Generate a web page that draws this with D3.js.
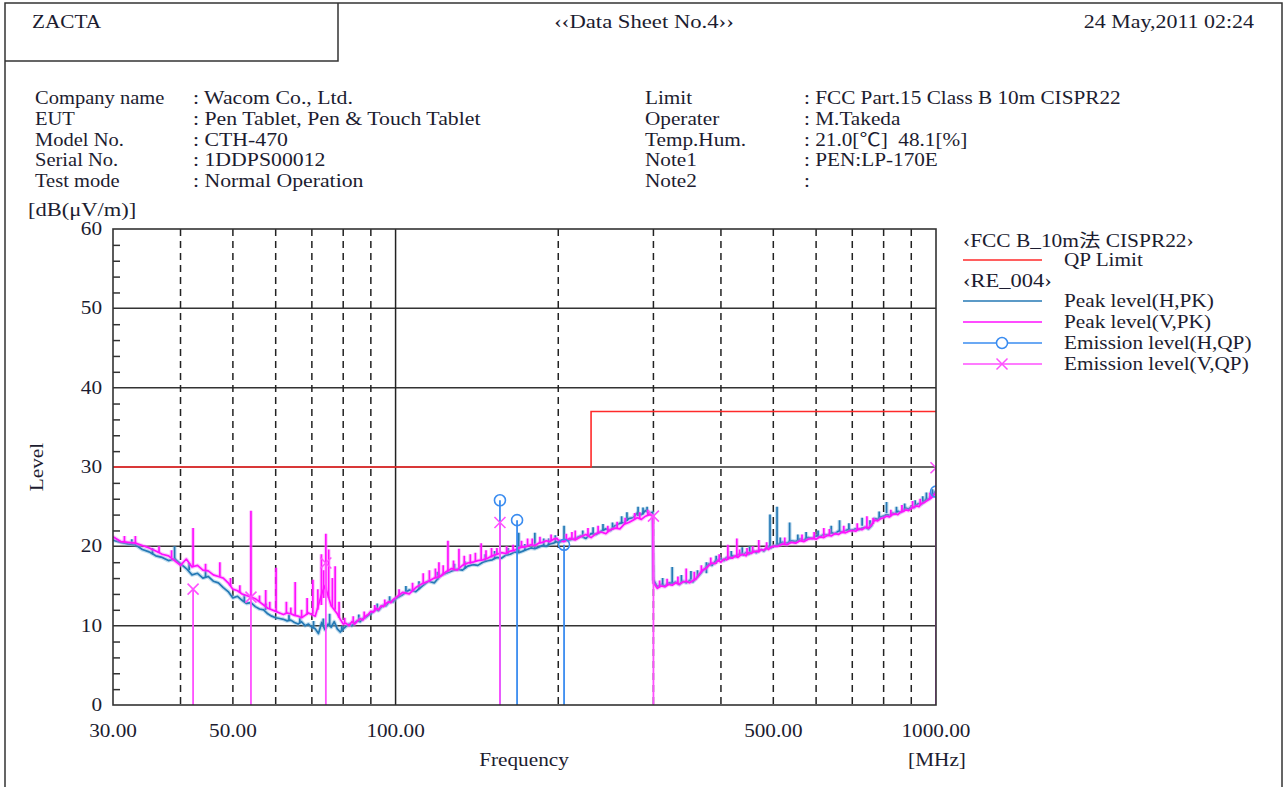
<!DOCTYPE html>
<meta charset="utf-8">
<html>
<head>
<style>
  body { margin: 0; background: #fff; }
  svg text { font-family: "Liberation Serif", "Noto Sans CJK JP", serif; fill: #1c1c30; font-size: 18px; white-space: pre; }
</style>
<script src="https://d3js.org/d3.v7.min.js"></script>
</head>
<body>
<div id="chart"></div>
<script>
// sweep frequencies [MHz]
var freqMHz = [
  30,31,32,33,34,35,36,37,38,39, 40,41,42,43,44,45,46,47,48,49,
  50,51,52,53,54,55,56,57,58,59, 60,61,62,63,64,65,66,67,68,69,
  70,71,72,73,74,75,76,77,78,79, 80,81,82,83,84,85,86,87,88,89,
  90,91,92,93,94,95,96,97,98,99, 100,
  103,106,109,112,115,118,121,124,127,130, 133,136,139,142,145,148,151,154,157,160,
  163,166,169,172,175,178,181,184,187,190, 193,196,199,
  200,205,210,215,220,225,230,235,240,245, 250,255,260,265,270,275,280,285,290,295, 299,
  300,305,310,315,320,325,330,335,340,345, 350,355,360,365,370,375,380,385,390,395,
  400,405,410,415,420,425,430,435,440,445, 450,455,460,465,470,475,480,485,490,495, 500,
  510,520,530,540,550,560,570,580,590,600, 610,620,630,640,650,660,670,680,690,700,
  710,720,730,740,750,760,770,780,790,800, 810,820,830,840,850,860,870,880,890,900,
  910,920,930,940,950,960,970,980,990,1000
];
// Peak level (H,PK) [dB(uV/m)]
var peakH = [
  20.8,20.5,20.3,20.2,19.6,19.3,18.8,18.6,18.2,18.4, 17.8,17.2,16.4,16.6,16.0,16.2,15.6,15.4,14.8,14.3,
  13.5,13.7,13.2,12.8,12.9,12.4,12.1,12.0,11.5,11.2, 11.0,10.9,10.8,10.6,10.7,10.4,10.2,10.5,10.0,10.2,
  9.8,9.6,9.0,10.4,9.5,10.2,9.8,10.5,9.6,9.2, 9.6,9.9,10.2,10.0,10.4,10.6,10.5,10.9,11.0,11.3,
  11.5,11.8,12.0,11.9,12.3,12.6,12.5,12.9,13.1,13.0, 13.4,
  13.9,14.5,14.3,15.0,15.6,15.4,16.3,16.6,16.9,17.1, 17.0,17.5,17.7,17.6,18.0,18.2,18.3,18.6,18.5,18.9,
  19.0,19.3,19.2,19.4,19.6,19.8,19.7,19.9,20.1,20.0, 20.3,20.4,20.6,
  20.5,20.7,20.8,21.0,21.3,21.0,21.6,21.5,21.9,22.2, 22.0,22.6,22.9,23.0,23.5,23.6,24.2,24.0,24.5,24.2, 24.3,
  15.8,14.9,15.2,15.0,15.4,15.3,15.5,15.2,15.6,15.4, 15.7,15.5,16.0,16.4,16.9,17.3,17.8,17.6,18.1,18.3,
  18.4,18.2,18.6,18.5,18.8,18.7,18.9,19.1,18.9,19.2, 19.0,19.3,19.4,19.2,19.5,19.6,19.4,19.7,19.9,19.8, 20.0,
  20.2,20.5,20.4,20.7,20.6,20.9,20.8,21.1,21.0,21.3, 21.2,21.5,21.4,21.7,21.6,21.9,21.8,22.0,22.1,22.0,
  22.2,22.1,22.3,22.4,22.2,22.6,23.5,23.4,23.7,23.8, 24.0,23.9,24.2,24.1,24.4,24.3,24.6,24.8,24.7,25.0,
  24.9,25.2,25.4,25.3,25.7,25.9,26.0,26.3,26.6,27.0
];
// Peak level (V,PK) [dB(uV/m)]
var peakV = [
  21.2,20.6,20.5,20.4,20.1,19.8,19.4,19.0,18.8,18.2, 17.6,18.4,17.4,17.6,17.0,16.9,16.4,16.2,16.0,15.4,
  14.6,14.4,14.0,13.8,13.6,13.4,13.0,12.6,12.2,12.0, 11.8,11.6,11.4,11.6,11.5,11.3,11.2,11.0,11.3,11.6,
  11.4,11.2,12.6,14.0,15.0,13.8,12.5,12.0,11.5,10.8, 10.2,10.3,10.0,10.5,10.2,10.6,10.9,10.7,11.2,11.4,
  11.8,11.7,12.2,12.0,12.5,12.4,12.8,13.0,12.9,13.3, 13.5,
  14.2,14.0,14.8,15.3,15.6,16.0,16.2,16.8,17.2,17.0, 17.6,17.9,18.0,18.2,18.3,18.5,18.8,19.0,19.2,19.1,
  19.4,19.5,19.8,19.9,20.0,20.2,20.1,20.4,20.5,20.7, 20.6,20.9,21.0,
  20.8,20.6,21.0,20.8,21.2,21.5,21.1,21.6,21.8,21.6, 22.1,22.3,22.2,22.8,23.0,23.3,23.6,23.4,23.8,24.0, 23.9,
  15.4,14.7,15.0,14.9,15.2,15.1,15.4,15.2,15.5,15.6, 15.4,15.7,15.9,16.5,17.0,17.2,17.6,17.9,17.8,18.2,
  18.0,18.4,18.3,18.6,18.5,18.8,18.6,18.9,19.0,18.8, 19.2,19.1,19.3,19.4,19.3,19.6,19.5,19.8,19.6,19.9, 20.0,
  20.0,20.3,20.2,20.5,20.4,20.7,20.6,20.9,21.0,20.9, 21.2,21.1,21.4,21.3,21.6,21.5,21.8,21.7,21.9,22.0,
  21.9,22.2,22.1,22.4,22.3,22.7,23.3,23.2,23.5,23.6, 23.8,23.7,24.0,24.1,24.0,24.3,24.4,24.6,24.5,24.8,
  24.9,25.1,25.0,25.4,25.5,25.7,25.9,26.1,26.4,26.8
];
// narrow spurs on the peak traces: frequency, floor, top
var spurHFreq = [39, 75.5, 169, 181, 188, 205, 281, 325, 376, 493, 508, 536, 640, 663, 730, 810, 960,
  32.5, 35.5, 41.5, 44.5, 52.5, 57.5, 63.5, 66.5, 70.5, 73.5, 79.5, 85.5, 92.5, 97.5,
  104.5, 110.5, 119.5, 128.5, 134.5, 146.5, 152.5, 161.5, 173.5, 192, 197.5,
  222, 232, 242, 252, 262, 268, 287, 292, 312, 338, 352, 362, 392, 418, 438, 452,
  515, 555, 575, 605, 690, 755, 785, 845, 875, 915, 945, 985];
var spurHBase = [18.2, 10.0, 19.3, 19.8, 20.0, 20.6, 23.8, 15.4, 16.6, 19.9, 20.2, 20.4, 21.6, 21.8, 22.6, 24.2, 25.8,
  20.2, 19.0, 17.0, 16.0, 13.0, 12.0, 10.6, 10.3, 9.7, 9.9, 9.3, 10.5, 11.9, 12.9,
  14.2, 14.6, 15.8, 16.9, 17.2, 18.1, 18.4, 18.9, 19.5, 20.2, 20.5,
  21.2, 21.5, 22.0, 22.1, 22.9, 23.2, 24.0, 24.3, 15.1, 15.4, 15.8, 16.1, 17.8, 18.4, 19.0, 19.0,
  20.3, 20.7, 20.9, 21.2, 22.0, 22.4, 23.5, 24.2, 24.6, 25.0, 25.5, 26.1];
var spurHTop  = [20.0, 11.5, 21.7, 21.7, 21.0, 22.6, 25.0, 17.4, 18.0, 24.0, 25.0, 23.0, 22.6, 23.3, 23.6, 25.6, 26.8,
  20.9, 19.8, 17.9, 16.9, 13.9, 12.8, 11.4, 11.0, 10.6, 10.9, 10.0, 11.4, 12.8, 13.7,
  15.0, 15.6, 16.8, 17.8, 18.1, 19.0, 19.4, 19.8, 20.3, 21.0, 21.4,
  22.0, 22.4, 22.8, 23.0, 23.8, 24.3, 24.9, 25.0, 16.0, 16.4, 16.9, 17.0, 18.8, 19.4, 19.9, 20.0,
  21.1, 21.5, 21.8, 22.0, 22.9, 23.3, 24.4, 25.0, 25.4, 25.8, 26.3, 27.2];
var spurVFreq = [33.0, 42.2, 47.3, 54.0, 57.5, 60.1, 62.8, 65.2, 68.6, 70.3, 71.8, 72.9, 73.6, 74.3, 75.2, 76.4, 77.3, 78.6,
  115.5, 120.3, 125, 131, 137.5, 144, 150.5, 175.5, 215, 345, 412, 428, 470, 620, 745,
  31.5, 36.5, 38.5, 44.5, 49.5, 51.5, 56, 58.5, 64, 67, 80.5, 83.5, 87.5, 91.5, 95.5,
  101.5, 107.5, 112.5, 118.5, 122.5, 128, 134, 140.5, 147, 154, 160.5, 165, 171, 179, 185, 194,
  207, 212, 227, 237, 247, 257, 266, 277, 283, 293, 308, 318, 333, 357, 368, 383, 397, 433, 447, 458, 486,
  525, 565, 595, 635, 675, 715, 765, 825, 865, 905, 935, 975];
var spurVBase = [20.4, 17.5, 16.2, 13.6, 12.5, 11.8, 11.5, 11.3, 11.4, 11.5, 12.0, 12.6, 13.5, 14.5, 13.5, 12.4, 12.0, 11.0,
  15.8, 16.2, 16.8, 17.3, 17.8, 18.3, 18.6, 20.0, 20.9, 15.6, 18.3, 18.6, 19.4, 21.2, 22.4,
  20.5, 19.2, 18.6, 16.9, 15.0, 14.2, 13.0, 12.1, 11.5, 11.1, 10.2, 10.4, 10.9, 11.8, 12.5,
  13.8, 14.4, 15.4, 16.0, 16.4, 17.0, 17.7, 18.1, 18.4, 18.9, 19.1, 19.4, 19.8, 20.2, 20.4, 20.7,
  20.8, 21.0, 21.4, 21.7, 21.8, 22.3, 22.8, 23.4, 23.5, 23.9, 14.9, 15.1, 15.3, 15.8, 16.8, 17.8, 18.1, 18.8, 18.9, 19.2, 19.7,
  20.3, 20.7, 21.0, 21.4, 21.8, 22.0, 22.8, 23.8, 24.4, 24.9, 25.2, 26.0];
var spurVTop  = [21.3, 22.3, 18.0, 24.5, 14.5, 17.3, 13.0, 15.5, 13.5, 15.8, 14.6, 19.0, 17.0, 21.6, 19.6, 16.0, 17.5, 13.0,
  17.0, 18.0, 20.7, 19.7, 19.0, 20.4, 19.8, 21.0, 22.0, 17.2, 20.2, 21.0, 20.8, 22.3, 23.8,
  21.3, 20.0, 19.5, 17.8, 16.0, 15.1, 13.8, 13.0, 12.3, 12.0, 11.0, 11.2, 11.8, 12.6, 13.3,
  14.6, 15.4, 16.6, 17.2, 17.6, 18.2, 18.8, 19.2, 19.5, 19.8, 20.0, 20.2, 20.7, 21.0, 21.2, 21.5,
  21.6, 21.8, 22.3, 22.6, 22.6, 23.1, 23.6, 24.2, 24.3, 24.6, 15.7, 15.9, 16.2, 16.8, 17.6, 18.6, 19.0, 19.6, 19.8, 20.0, 20.5,
  21.1, 21.5, 21.8, 22.2, 22.6, 22.9, 23.6, 24.6, 25.2, 25.7, 26.0, 26.8];
// QP results
var qpHFreq  = [156, 167.8, 205, 1000];
var qpHLevel = [25.8, 23.3, 20.2, 26.9];
var qpVFreq  = [42.2, 54.0, 74.3, 156, 300, 1000];
var qpVLevel = [14.6, 13.6, 17.9, 23.0, 23.8, 29.9];
// FCC B 10m limit
var limitFreq  = [30, 230, 230, 1000];
var limitLevel = [30, 30, 37, 37];

var yTicks = [0, 10, 20, 30, 40, 50, 60];
var xLabels = [30, 50, 100, 500, 1000];
var xGrid = [40, 50, 60, 70, 80, 90, 100, 200, 300, 400, 500, 600, 700, 800, 900];

var infoLeft = [["Company name", ": Wacom Co., Ltd."], ["EUT", ": Pen Tablet, Pen & Touch Tablet"],
  ["Model No.", ": CTH-470"], ["Serial No.", ": 1DDPS00012"], ["Test mode", ": Normal Operation"]];
var infoRight = [["Limit", ": FCC Part.15 Class B 10m CISPR22"], ["Operater", ": M.Takeda"],
  ["Temp.Hum.", ": 21.0[\u2103]\u00a0\u00a048.1[%]"], ["Note1", ": PEN:LP-170E"], ["Note2", ":"]];

var W = 1288, H = 787;
var colH = "#2479b5", colV = "#ff10ff", colQH = "#3a8cf0", colQV = "#ff50ff", colLim = "#ff2a2a";
var SX = 1.18; // the sheet's serif is wider than Times

var svg = d3.select("#chart").append("svg")
  .attr("width", W).attr("height", H);

function label(g, px, py, str, anchor, sx) {
  return g.append("text")
    .attr("transform", "translate(" + px + "," + py + ") scale(" + (sx || SX) + ",1)")
    .attr("text-anchor", anchor || "start")
    .text(str);
}

// page frame
svg.append("rect").attr("x", 5).attr("y", 3).attr("width", 1277).attr("height", 820)
  .attr("fill", "none").attr("stroke", "#333").attr("stroke-width", 1.5);
svg.append("path").attr("d", "M5,61H338V3")
  .attr("fill", "none").attr("stroke", "#333").attr("stroke-width", 1.5);

label(svg, 32, 28, "ZACTA");
label(svg, 644, 28, "\u2039\u2039Data Sheet No.4\u203a\u203a", "middle", 1.26);
label(svg, 1254, 28, "24 May,2011 02:24", "end", 1.22);

infoLeft.forEach(function(r, i) {
  label(svg, 35, 104 + i * 20.8, r[0], "start", 1.14);
  label(svg, 193, 104 + i * 20.8, r[1], "start", 1.21);
});
infoRight.forEach(function(r, i) {
  label(svg, 645, 104 + i * 20.8, r[0]);
  label(svg, 804, 104 + i * 20.8, r[1]);
});

// plot area
var pL = 113, pR = 936, pT = 229, pB = 705;
var x = d3.scaleLog().domain([30, 1000]).range([pL, pR]);
var y = d3.scaleLinear().domain([0, 60]).range([pB, pT]);

svg.append("defs").append("clipPath").attr("id", "plotclip")
  .append("rect").attr("x", pL).attr("y", pT).attr("width", pR - pL).attr("height", pB - pT);

// horizontal grid
svg.append("g").selectAll("line").data(yTicks.filter(function(d) { return d > 0 && d < 60; }))
  .enter().append("line")
  .attr("x1", pL).attr("x2", pR)
  .attr("y1", function(d) { return y(d); }).attr("y2", function(d) { return y(d); })
  .attr("stroke", "#333").attr("stroke-width", 1.5);

// minor y ticks
svg.append("g").attr("transform", "translate(" + pL + ",0)")
  .call(d3.axisLeft(y).tickValues(d3.range(2, 60, 2).filter(function(d) { return d % 10; }))
    .tickSize(-7).tickFormat(""))
  .call(function(g) { g.select(".domain").remove(); })
  .selectAll("line").attr("stroke", "#333").attr("stroke-width", 1.5);

// vertical grid
svg.append("g").selectAll("line").data(xGrid).enter().append("line")
  .attr("x1", function(d) { return x(d); }).attr("x2", function(d) { return x(d); })
  .attr("y1", pT).attr("y2", pB)
  .attr("stroke", "#222").attr("stroke-width", 1.5)
  .attr("stroke-dasharray", function(d) { return d === 100 ? null : "7,5"; });

// limit line
var plot = svg.append("g").attr("clip-path", "url(#plotclip)");
plot.append("path")
  .datum(limitFreq.map(function(f, i) { return [f, limitLevel[i]]; }))
  .attr("d", d3.line().x(function(d) { return x(d[0]); }).y(function(d) { return y(d[1]); }))
  .attr("fill", "none").attr("stroke", colLim).attr("stroke-width", 1.6);

function drawTrace(levels, sf, sb, st, col, halo) {
  var pts = freqMHz.map(function(f, i) { return [f, levels[i]]; });
  var line = d3.line().x(function(d) { return x(d[0]); }).y(function(d) { return y(d[1]); });
  var spurPath = sf.map(function(f, i) {
    return "M" + x(f) + "," + y(sb[i]) + "L" + x(f) + "," + y(st[i]);
  }).join("");
  [[halo, 4], [col, 1.7]].forEach(function(s) {
    plot.append("path").datum(pts).attr("d", line)
      .attr("fill", "none").attr("stroke", s[0]).attr("stroke-width", s[1]).attr("stroke-linejoin", "round");
    plot.append("path").attr("d", spurPath)
      .attr("fill", "none").attr("stroke", s[0]).attr("stroke-width", s[1]);
  });
}
drawTrace(peakH, spurHFreq, spurHBase, spurHTop, colH, "rgba(120,180,220,0.45)");
drawTrace(peakV, spurVFreq, spurVBase, spurVTop, colV, "rgba(255,120,255,0.4)");

// QP stems and markers
plot.append("g").selectAll("line").data(qpHFreq).enter().append("line")
  .attr("x1", function(d) { return x(d); }).attr("x2", function(d) { return x(d); })
  .attr("y1", pB).attr("y2", function(d, i) { return y(qpHLevel[i]); })
  .attr("stroke", colQH).attr("stroke-width", 1.8);
plot.append("g").selectAll("line").data(qpVFreq).enter().append("line")
  .attr("x1", function(d) { return x(d); }).attr("x2", function(d) { return x(d); })
  .attr("y1", pB).attr("y2", function(d, i) { return y(qpVLevel[i]); })
  .attr("stroke", colQV).attr("stroke-width", 1.8);
plot.append("g").selectAll("circle").data(qpHFreq).enter().append("circle")
  .attr("cx", function(d) { return x(d); }).attr("cy", function(d, i) { return y(qpHLevel[i]); })
  .attr("r", 5.5).attr("fill", "none").attr("stroke", colQH).attr("stroke-width", 1.6);
plot.append("g").selectAll("path").data(qpVFreq).enter().append("path")
  .attr("d", function(d, i) {
    var cx = x(d), cy = y(qpVLevel[i]), s = 5.5;
    return "M" + (cx - s) + "," + (cy - s) + "L" + (cx + s) + "," + (cy + s) +
           "M" + (cx - s) + "," + (cy + s) + "L" + (cx + s) + "," + (cy - s);
  })
  .attr("fill", "none").attr("stroke", colQV).attr("stroke-width", 1.6);

// frame of plot
svg.append("rect").attr("x", pL).attr("y", pT).attr("width", pR - pL).attr("height", pB - pT)
  .attr("fill", "none").attr("stroke", "#333").attr("stroke-width", 1.6);

// axis labels
var yl = svg.append("g");
yTicks.forEach(function(d) { label(yl, 102, y(d) + 6, String(d), "end"); });
var xl = svg.append("g");
xLabels.forEach(function(d) { label(xl, x(d), 737, d3.format(".2f")(d), "middle"); });

label(svg, 524, 766, "Frequency", "middle");
label(svg, 937, 766, "[MHz]", "middle");
svg.append("text").attr("transform", "translate(43,467) rotate(-90) scale(" + SX + ",1)")
  .attr("text-anchor", "middle").text("Level");
label(svg, 28, 216, "[dB(\u03bcV/m)]", "start", 1.25);

// legend
var lg = svg.append("g");
label(lg, 963, 247, "\u2039FCC B_10m\u6cd5 CISPR22\u203a", "start", 1.19);
label(lg, 963, 287, "\u2039RE_004\u203a", "start", 1.25);
var legItems = [
  {y: 260, col: colLim, label: "QP Limit", mark: null},
  {y: 301, col: colH, label: "Peak level(H,PK)", mark: null},
  {y: 322, col: colV, label: "Peak level(V,PK)", mark: null},
  {y: 343, col: colQH, label: "Emission level(H,QP)", mark: "o"},
  {y: 364, col: colQV, label: "Emission level(V,QP)", mark: "x"}
];
legItems.forEach(function(it) {
  lg.append("line").attr("x1", 963).attr("x2", 1042).attr("y1", it.y).attr("y2", it.y)
    .attr("stroke", it.col).attr("stroke-width", 1.5);
  label(lg, 1064, it.y + 6, it.label);
  if (it.mark === "o") {
    lg.append("circle").attr("cx", 1002).attr("cy", it.y).attr("r", 5.5)
      .attr("fill", "#fff").attr("stroke", it.col).attr("stroke-width", 1.5);
  } else if (it.mark === "x") {
    lg.append("path").attr("d", "M996.5," + (it.y - 5.5) + "L1007.5," + (it.y + 5.5) +
      "M996.5," + (it.y + 5.5) + "L1007.5," + (it.y - 5.5))
      .attr("stroke", it.col).attr("stroke-width", 1.5);
  }
});
</script>
</body>
</html>
